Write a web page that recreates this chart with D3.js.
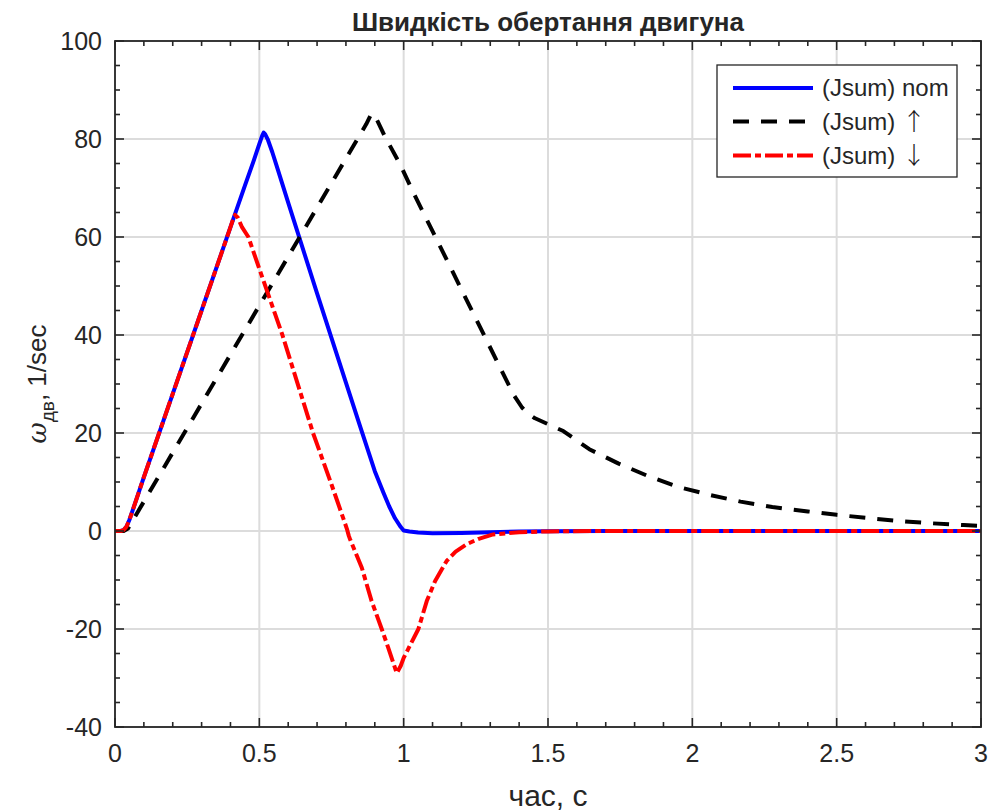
<!DOCTYPE html>
<html><head><meta charset="utf-8">
<script src="https://cdn.jsdelivr.net/npm/d3@7"></script>
<style>body{margin:0;background:#fff}svg{display:block}text{font-family:"Liberation Sans",Arial,sans-serif;fill:#262626}</style>
</head><body><svg id="c" width="992" height="812"></svg>
<script>
const title = "Швидкість обертання двигуна";
const xLabel = "час, с";
const seriesNames = ["(Jsum) nom", "(Jsum) ", "(Jsum) "];
const seriesArrows = ["", "↑", "↓"];
const xTicks = [0, 0.5, 1, 1.5, 2, 2.5, 3];
const yTicks = [-40, -20, 0, 20, 40, 60, 80, 100];

const tNom = [0,0.02,0.03,0.04,0.05,0.06,0.1,0.2,0.3,0.4,0.45,0.48,0.5,0.51,0.515,0.52,0.53,0.545,0.56,0.6,0.7,0.8,0.85,0.9,0.93,0.95,0.97,0.99,1.0,1.02,1.05,1.1,1.2,1.3,1.4,1.5,1.7,2,2.5,3];
const vNom = [0,0,0.2,0.9,2.3,4,11,28,45,62,70.5,75.5,79,80.7,81.3,81,79.8,77.3,74.5,67,48.5,30.3,21.2,12.2,7.8,5,2.6,0.8,0.1,-0.1,-0.3,-0.45,-0.4,-0.25,-0.12,-0.05,0,0,0,0];

const tUp = [0,0.03,0.045,0.06,0.1,0.2,0.3,0.4,0.5,0.6,0.7,0.8,0.85,0.87,0.885,0.895,0.91,0.936,0.988,1.034,1.1,1.2,1.3,1.38,1.41,1.43,1.455,1.5,1.553,1.643,1.743,1.847,1.951,2.058,2.167,2.277,2.4,2.5,2.6,2.717,2.83,2.94,3.0];
const vUp = [0,0,0.5,2,6,16,26,36,46,56,66,76,81,83,84.8,85.2,83.6,80.4,74.8,69,61.2,49.3,37.4,27.9,25.2,24,23,21.8,20.4,16.7,13.8,11.2,9,7.4,6,4.9,4,3.3,2.7,2.04,1.57,1.2,1.05];

const tDn = [0,0.02,0.03,0.04,0.05,0.06,0.1,0.2,0.3,0.4,0.41,0.416,0.425,0.44,0.462,0.5,0.58,0.686,0.75,0.803,0.81,0.815,0.855,0.889,0.924,0.947,0.976,0.99,1.0,1.025,1.051,1.08,1.109,1.149,1.18,1.218,1.26,1.31,1.4,1.5,1.7,2,2.5,3];
const vDn = [0,0,0.2,0.9,2.3,4,11,28,45,62,63.8,64.5,64,62,60,53.5,40,20,9.5,0.5,-1,-1.8,-7.5,-14.3,-20,-23.9,-29,-27.5,-25.9,-23,-20,-14.3,-10.2,-6.1,-4.2,-2.7,-1.6,-0.7,-0.25,-0.08,0,0,0,0];

const svg = d3.select("#c");
const L = 115, R = 981, T = 41, B = 727;
const x = d3.scaleLinear().domain([0, 3]).range([L, R]);
const y = d3.scaleLinear().domain([-40, 100]).range([B, T]);
const axisCol = "#262626";

// grid
const g = svg.append("g");
g.selectAll(".gx").data(xTicks).join("line")
  .attr("x1", d => x(d)).attr("x2", d => x(d)).attr("y1", T).attr("y2", B)
  .attr("stroke", "#dcdcdc").attr("stroke-width", 2);
g.selectAll(".gy").data(yTicks).join("line")
  .attr("y1", d => y(d)).attr("y2", d => y(d)).attr("x1", L).attr("x2", R)
  .attr("stroke", "#dcdcdc").attr("stroke-width", 2);

// lines
svg.append("clipPath").attr("id", "clip").append("rect").attr("x", L).attr("y", T).attr("width", R - L).attr("height", B - T);
const line = d3.line().x(d => x(d[0])).y(d => y(d[1]));
const pl = svg.append("g").attr("clip-path", "url(#clip)");
const styles = [
  {c: "#0000ff", dash: null},
  {c: "#000000", dash: "16,12"},
  {c: "#ff0000", dash: "18,4,6,4"}
];
const dataSets = [d3.zip(tNom, vNom), d3.zip(tUp, vUp), d3.zip(tDn, vDn)];
dataSets.forEach((ds, i) => {
  pl.append("path").datum(ds).attr("d", line).attr("fill", "none")
    .attr("stroke", styles[i].c).attr("stroke-width", 4)
    .attr("stroke-linejoin", "round")
    .attr("stroke-dasharray", styles[i].dash);
});

// axes box with inward ticks
const ax = svg.append("g");
ax.append("rect").attr("x", L).attr("y", T).attr("width", R - L).attr("height", B - T)
  .attr("fill", "none").attr("stroke", axisCol).attr("stroke-width", 1.8);
const xMinor = d3.range(0, 31).map(i => i / 10);
const yMinor = d3.range(-40, 101, 5);
ax.selectAll(".xm").data(xMinor).join("g").each(function(d) {
  const major = Math.abs(d * 2 - Math.round(d * 2)) < 1e-9;
  const len = major ? 9 : 5;
  d3.select(this).append("line").attr("x1", x(d)).attr("x2", x(d)).attr("y1", B).attr("y2", B - len).attr("stroke", axisCol).attr("stroke-width", 1.6);
  d3.select(this).append("line").attr("x1", x(d)).attr("x2", x(d)).attr("y1", T).attr("y2", T + len).attr("stroke", axisCol).attr("stroke-width", 1.6);
});
ax.selectAll(".ym").data(yMinor).join("g").each(function(d) {
  const major = d % 20 === 0;
  const len = major ? 9 : 5;
  d3.select(this).append("line").attr("y1", y(d)).attr("y2", y(d)).attr("x1", L).attr("x2", L + len).attr("stroke", axisCol).attr("stroke-width", 1.6);
  d3.select(this).append("line").attr("y1", y(d)).attr("y2", y(d)).attr("x1", R).attr("x2", R - len).attr("stroke", axisCol).attr("stroke-width", 1.6);
});
ax.selectAll(".xl").data(xTicks).join("text")
  .attr("x", d => x(d)).attr("y", B + 35).attr("text-anchor", "middle")
  .attr("font-size", 25).text(d => d);
ax.selectAll(".yl").data(yTicks).join("text")
  .attr("x", L - 13).attr("y", d => y(d) + 9).attr("text-anchor", "end")
  .attr("font-size", 25).text(d => d);

// title
svg.append("text").attr("x", (L + R) / 2).attr("y", 31).attr("text-anchor", "middle")
  .attr("font-size", 26).attr("font-weight", "bold").attr("fill", "#000").text(title);
// x label
svg.append("text").attr("x", (L + R) / 2).attr("y", 806).attr("text-anchor", "middle")
  .attr("font-size", 30).text(xLabel);
// y label
const yl = svg.append("text").attr("transform", `translate(46,${(T + B) / 2}) rotate(-90)`)
  .attr("text-anchor", "middle").attr("font-size", 26);
yl.append("tspan").attr("font-style", "italic").attr("font-family", "'DejaVu Serif',serif").text("ω");
yl.append("tspan").attr("font-size", 19).attr("dy", 8).text("дв");
yl.append("tspan").attr("dy", -8).text(", 1/sec");

// legend
const lg = svg.append("g");
const lx = 717, ly = 65, lw = 240, lh = 112;
lg.append("rect").attr("x", lx).attr("y", ly).attr("width", lw).attr("height", lh)
  .attr("fill", "#fff").attr("stroke", axisCol).attr("stroke-width", 1.3);
const rowsY = [88, 121.5, 155.5];
seriesNames.forEach((n, i) => {
  lg.append("line").attr("x1", 733).attr("x2", 813).attr("y1", rowsY[i]).attr("y2", rowsY[i])
    .attr("stroke", styles[i].c).attr("stroke-width", 4).attr("stroke-dasharray", styles[i].dash);
  const t = lg.append("text").attr("x", 822).attr("y", rowsY[i] + 8).attr("font-size", 24).attr("fill", "#000");
  t.append("tspan").text(n);
  if (seriesArrows[i]) t.append("tspan").attr("font-family", "'Noto Sans CJK SC','DejaVu Sans',sans-serif")
    .attr("font-weight", 300).attr("fill", "#1a1a1a").text(seriesArrows[i]);
});
</script></body></html>
